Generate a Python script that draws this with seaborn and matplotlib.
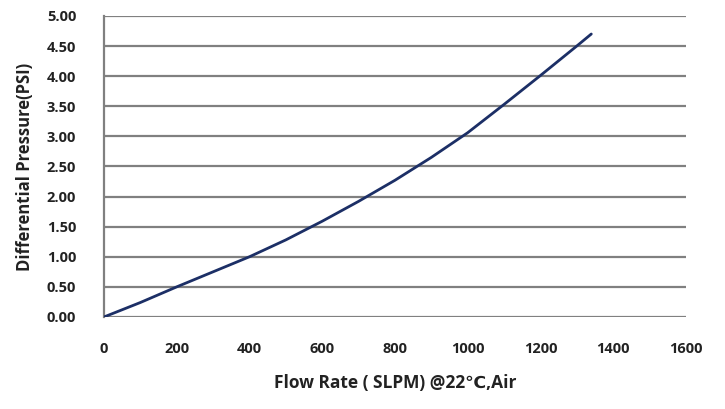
import numpy as np
import pandas as pd
import matplotlib
matplotlib.use("Agg")
import matplotlib.pyplot as plt
import seaborn as sns

# values
flow = [0, 100, 200, 300, 400, 500, 600, 700, 800, 900, 1000, 1100, 1200, 1300, 1340]
pressure = [0.0, 0.24, 0.50, 0.75, 1.00, 1.28, 1.59, 1.92, 2.27, 2.65, 3.06, 3.53, 4.01, 4.50, 4.70]
x_ticks = [0, 200, 400, 600, 800, 1000, 1200, 1400, 1600]
y_ticks = [0.0, 0.5, 1.0, 1.5, 2.0, 2.5, 3.0, 3.5, 4.0, 4.5, 5.0]

df = pd.DataFrame({"flow": flow, "pressure": pressure})

sns.set_style("white")
plt.rcParams['font.family'] = ['Open Sans', 'DejaVu Sans']

fig = plt.figure(figsize=(7.25, 4.09), dpi=100)
ax = fig.add_axes([0.1434, 0.225, 0.8026, 0.736])

for yv in y_ticks:
    ax.axhline(yv, color="#808080", lw=1.6, zorder=1)

sns.lineplot(data=df, x="flow", y="pressure", ax=ax, color="#1c2f66", lw=2.0, zorder=3)

ax.set_xlim(0, 1600)
ax.set_ylim(0, 5)
ax.set_xticks(x_ticks)
ax.set_yticks(y_ticks)
ax.set_xticklabels([str(v) for v in x_ticks])
ax.set_yticklabels([f"{v:.2f}" for v in y_ticks])
ax.tick_params(axis="x", length=0, pad=18, labelsize=10.5)
ax.tick_params(axis="y", length=0, pad=20, labelsize=10.5)
for lab in ax.get_xticklabels() + ax.get_yticklabels():
    lab.set_fontweight("bold")
    lab.set_color("#222222")

for s in ["top", "right", "bottom"]:
    ax.spines[s].set_visible(False)
ax.spines["left"].set_color("#808080")
ax.spines["left"].set_linewidth(1.6)

ax.set_xlabel("Flow Rate ( SLPM) @22℃,Air", fontsize=12.5, fontweight="bold",
              labelpad=13, color="#222222")
ax.set_ylabel("Differential Pressure(PSI)", fontsize=12, fontweight="bold",
              labelpad=9, color="#222222")

fig.savefig("out.png", dpi=100, facecolor="white")
